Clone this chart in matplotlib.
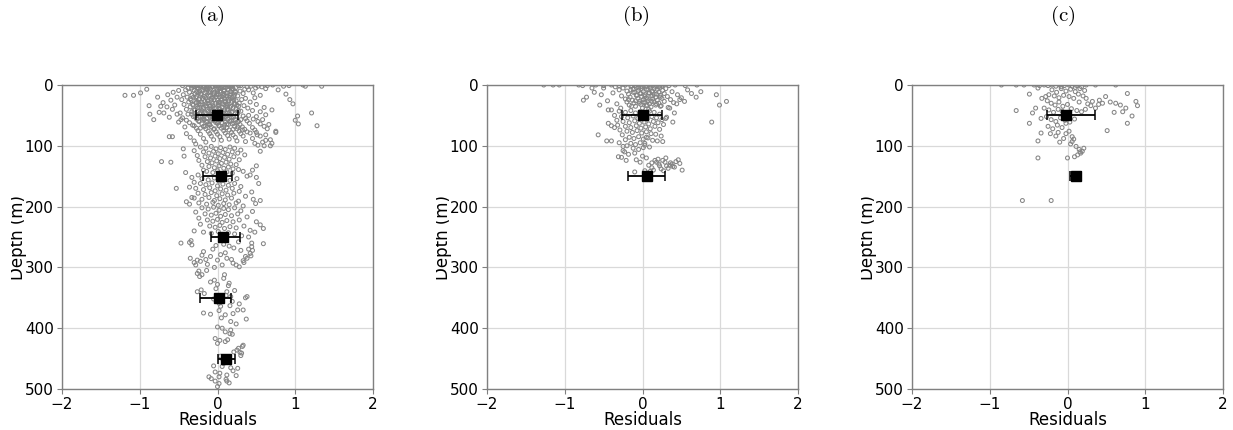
import numpy as np
import matplotlib
matplotlib.use("Agg")
import matplotlib.pyplot as plt
from matplotlib.transforms import Bbox

plt.rcParams['mathtext.fontset'] = 'cm'

# ---------------- data ----------------
panel_titles = ["(a)", "(b)", "(c)"]
xticks = [-2, -1, 0, 1, 2]
yticks = [0, 100, 200, 300, 400, 500]

# Panel (a) residual scatter
res_a = [
    -0.45, -0.32, -0.21, -0.12, -0.03, 0.06, 0.15, 0.27, 0.38, 0.52,
    0.64, 0.71, 0.85, -0.38, -0.26, -0.15, -0.07, 0.02, 0.11, 0.20,
    -0.41, -0.30, -0.19, -0.10, 0.00, 0.09, 0.18, 0.29, 0.40, -0.50,
    -0.36, -0.24, -0.14, -0.05, 0.04, 0.13, 0.23, 0.33, -0.57, 0.46,
    -0.44, -0.33, -0.22, -0.11, -0.01, 0.08, 0.17, 0.26, -0.64, 0.55,
    -0.39, -0.28, -0.17, -0.08, 0.03, 0.12, 0.21, 0.36, -0.52, 0.48,
    -0.46, -0.34, -0.23, -0.13, -0.04, 0.05, 0.14, 0.24, 0.31, -0.60,
    -0.37, -0.27, -0.16, -0.06, 0.02, 0.10, 0.19, 0.28, 0.42, -0.70,
    -0.43, -0.31, -0.20, -0.09, 0.01, 0.11, 0.22, 0.34, 0.50, -0.55,
    -0.35, -0.25, -0.15, -0.04, 0.06, 0.16, 0.27, 0.39, -0.65, 0.60,
    -0.40, -0.29, -0.18, -0.07, 0.03, 0.13, 0.24, 0.45, -0.58, 0.70,
    -0.33, -0.22, -0.12, -0.02, 0.08, 0.18, 0.30, -0.48, 0.55, -0.75,
    -0.38, -0.26, -0.14, -0.05, 0.05, 0.15, 0.26, 0.40, -0.52, 0.62,
    -0.31, -0.20, -0.10, 0.00, 0.10, 0.20, 0.33, -0.45, 0.50, -0.62,
    -0.27, -0.17, -0.07, 0.03, 0.13, 0.23, 0.36, -0.40, 0.46, 0.58,
    -0.24, -0.14, -0.04, 0.06, 0.16, 0.26, 0.38, -0.36, 0.52, -0.50,
    -0.20, -0.10, 0.00, 0.09, 0.19, 0.29, 0.41, -0.32, 0.55, 0.66,
    -0.18, -0.08, 0.02, 0.12, 0.22, 0.32, -0.30, 0.45, 0.60, -0.42,
    -0.15, -0.05, 0.05, 0.15, 0.25, 0.35, -0.27, 0.48, 0.64, 0.75,
    -0.12, -0.02, 0.08, 0.18, 0.28, 0.38, -0.25, 0.50, -0.40, 0.62,
    -0.10, 0.00, 0.10, 0.20, 0.30, -0.22, 0.42, 0.55, -0.35, 0.68,
    -0.08, 0.03, 0.13, 0.23, 0.33, -0.18, 0.45, -0.30, 0.58, 0.70,
    -0.05, 0.05, 0.15, 0.25, -0.15, 0.36, -0.28, 0.48, 0.60, 0.52,
    -0.30, -0.25, -0.18, -0.13, -0.06, -0.01, 0.04, 0.09, 0.14, 0.19,
    -0.27, -0.21, -0.16, -0.09, -0.04, 0.01, 0.07, 0.12, 0.17, 0.22,
    -0.31, -0.24, -0.19, -0.12, -0.06, 0.00, 0.05, 0.10, 0.16, 0.21,
    -0.28, -0.22, -0.15, -0.10, -0.03, 0.02, 0.08, 0.13, 0.18, 0.25,
    -0.26, -0.20, -0.13, -0.08, -0.02, 0.04, 0.09, 0.15, 0.20, 0.27,
    -0.23, -0.17, -0.11, -0.05, 0.01, 0.07, 0.12, 0.18, 0.23, -0.29,
    -0.20, -0.14, -0.08, -0.02, 0.04, 0.10, 0.16, 0.21, -0.26, 0.27,
    -0.34, -0.29, -0.23, -0.17, -0.11, -0.06, 0.00, 0.05, 0.11, 0.16,
    0.24, 0.30, 0.35, 0.43, 0.49, 0.57, 0.62, 0.78, 0.92, 1.10,
    -0.33, -0.26, -0.20, -0.14, -0.09, -0.03, 0.03, 0.08, 0.13, 0.18,
    -0.29, -0.23, -0.17, -0.11, -0.05, 0.00, 0.06, 0.11, 0.16, 0.23,
    -0.35, -0.27, -0.21, -0.15, -0.08, -0.02, 0.03, 0.09, 0.14, 0.19,
    -0.32, -0.25, -0.18, -0.12, -0.06, 0.01, 0.06, 0.12, 0.17, 0.22,
    -0.30, -0.23, -0.16, -0.10, -0.04, 0.02, 0.07, 0.13, 0.19, 0.24,
    -0.27, -0.21, -0.14, -0.08, -0.01, 0.05, 0.10, 0.16, 0.21, -0.33,
    -0.24, -0.18, -0.12, -0.06, 0.01, 0.07, 0.12, 0.18, 0.24, 0.30,
    -0.16, -0.10, -0.04, 0.02, 0.08, 0.14, 0.20, 0.26, -0.22, 0.32,
    -1.19, -1.08, -0.99, -0.91, -0.88, -0.87, -0.82, -0.77, -0.73, -0.69,
    -0.62, -0.58, -0.47, -0.44, -0.43, -0.72, 1.34, 1.13, 1.21, 1.28,
    1.00, 1.03, 0.97, 0.75, 0.68, 0.62, 0.51, 0.93, 0.88, 1.04,
    -0.22, -0.15, -0.08, -0.02, 0.04, 0.10, 0.16, 0.22, -0.30, 0.30,
    -0.18, -0.11, -0.05, 0.01, 0.07, 0.13, 0.19, 0.26, -0.26, 0.35,
    -0.16, -0.09, -0.03, 0.03, 0.09, 0.15, 0.21, -0.24, 0.28, 0.55,
    -0.13, -0.07, -0.01, 0.05, 0.11, 0.17, -0.20, 0.24, 0.50, -0.60,
    -0.11, -0.04, 0.02, 0.08, 0.14, 0.20, -0.18, 0.27, 0.45, -0.41,
    -0.14, -0.06, 0.00, 0.06, 0.12, 0.19, -0.25, 0.33, 0.38, -0.33,
    -0.20, -0.12, -0.04, 0.02, 0.09, 0.16, 0.25, -0.30, 0.42, 0.50,
    -0.22, -0.15, -0.07, 0.00, 0.07, 0.14, 0.22, 0.30, -0.36, 0.53,
    -0.28, -0.18, -0.10, -0.03, 0.04, 0.11, 0.19, 0.28, -0.53, 0.44,
    -0.25, -0.16, -0.08, -0.01, 0.06, 0.13, 0.21, 0.36, -0.33, 0.49,
    -0.30, -0.20, -0.11, -0.04, 0.03, 0.10, 0.18, 0.27, -0.40, 0.46,
    -0.24, -0.14, -0.06, 0.01, 0.08, 0.15, 0.24, 0.33, -0.36, 0.55,
    -0.20, -0.12, -0.05, 0.02, 0.08, 0.14, 0.22, 0.30, -0.28, 0.45,
    -0.16, -0.08, -0.02, 0.04, 0.10, 0.18, 0.26, 0.38, -0.24, 0.50,
    -0.13, -0.06, 0.00, 0.06, 0.12, 0.20, 0.28, 0.42, -0.22, 0.55,
    -0.10, -0.03, 0.03, 0.09, 0.16, 0.24, 0.34, 0.59, -0.30, 0.48,
    -0.18, -0.08, 0.01, 0.07, 0.14, 0.22, 0.31, 0.40, -0.34, -0.47,
    -0.36, -0.33, -0.35, -0.30, -0.26, -0.20, -0.18, -0.13, -0.09, -0.06,
    0.00, 0.04, 0.12, 0.18, 0.24, 0.34, 0.38, 0.42, 0.44, 0.44,
    0.59, 0.27, 0.21, 0.15, 0.08, 0.30, 0.40, 0.36, -0.02, 0.10,
    -0.28, -0.22, -0.15, -0.04, 0.06, 0.20, 0.28, 0.33, 0.43, 0.45,
    -0.26, -0.24, -0.23, -0.20, -0.14, -0.09, -0.04, 0.00, 0.15, 0.14,
    -0.26, -0.21, -0.17, 0.11, 0.17, 0.19, 0.16, 0.26, 0.33, 0.38,
    0.36, 0.02, 0.04, -0.18, -0.09, 0.02, 0.05, 0.17, 0.24, 0.37,
    0.00, -0.02, 0.08, 0.12, -0.05, 0.09, 0.22, 0.28, 0.10, 0.20,
    0.06, 0.10, 0.17, 0.19, -0.03, 0.03, 0.10, 0.00, 0.13, 0.25,
    0.32, 0.31, 0.27, 0.21, 0.04, 0.06, 0.08, 0.17, 0.26, -0.03,
    0.03, 0.12, -0.11, -0.08, 0.02, -0.03, 0.12, 0.15, 0.02, 0.00,
    0.29, 0.33, 0.30, 0.14, 0.20, -0.05, 0.07, 0.11, 0.24, 0.16,
]
depth_a = [
    1, 2, 0, 3, 1, 2, 0, 1, 3, 2,
    1, 0, 2, 5, 4, 6, 3, 5, 4, 6,
    8, 9, 7, 10, 8, 9, 7, 10, 8, 9,
    12, 13, 11, 14, 12, 13, 11, 14, 12, 13,
    16, 17, 15, 18, 16, 17, 15, 18, 16, 17,
    20, 21, 19, 22, 20, 21, 19, 22, 20, 21,
    24, 25, 23, 26, 24, 25, 23, 26, 24, 25,
    28, 29, 27, 30, 28, 29, 27, 30, 28, 29,
    32, 33, 31, 34, 32, 33, 31, 34, 32, 33,
    36, 37, 35, 38, 36, 37, 35, 38, 36, 37,
    40, 41, 39, 42, 40, 41, 39, 42, 40, 41,
    44, 45, 43, 46, 44, 45, 43, 46, 44, 45,
    48, 49, 47, 50, 48, 49, 47, 50, 48, 49,
    52, 53, 51, 54, 52, 53, 51, 54, 52, 53,
    56, 57, 55, 58, 56, 57, 55, 58, 56, 57,
    60, 61, 59, 62, 60, 61, 59, 62, 60, 61,
    64, 65, 63, 66, 64, 65, 63, 66, 64, 65,
    68, 69, 67, 70, 68, 69, 67, 70, 68, 69,
    72, 73, 71, 74, 72, 73, 71, 74, 72, 76,
    76, 77, 75, 78, 76, 77, 75, 78, 80, 82,
    80, 81, 79, 82, 80, 81, 79, 84, 86, 90,
    84, 85, 83, 86, 84, 88, 88, 92, 94, 96,
    90, 91, 89, 92, 94, 93, 97, 96, 100, 99,
    2, 6, 4, 8, 3, 7, 5, 9, 2, 6,
    11, 15, 13, 17, 12, 16, 14, 18, 11, 15,
    20, 24, 22, 26, 21, 25, 23, 27, 20, 24,
    29, 33, 31, 35, 30, 34, 32, 36, 29, 33,
    38, 42, 40, 44, 39, 43, 41, 45, 38, 42,
    47, 51, 49, 53, 48, 52, 50, 54, 47, 51,
    56, 60, 58, 62, 57, 61, 59, 63, 56, 60,
    0, 3, 1, 4, 0, 2, 1, 3, 0, 2,
    4, 1, 7, 2, 5, 3, 6, 8, 1, 0,
    5, 1, 9, 3, 7, 1, 10, 4, 8, 3,
    14, 10, 19, 12, 16, 11, 19, 13, 17, 12,
    23, 19, 28, 21, 25, 19, 28, 22, 26, 21,
    32, 28, 37, 30, 34, 29, 37, 31, 35, 30,
    41, 37, 46, 39, 43, 38, 46, 40, 44, 39,
    50, 46, 55, 48, 52, 47, 55, 49, 53, 48,
    59, 55, 64, 57, 61, 56, 64, 58, 62, 57,
    68, 66, 72, 67, 70, 65, 73, 69, 71, 74,
    17, 17, 13, 7, 34, 48, 57, 20, 35, 46,
    85, 85, 57, 105, 117, 126, 2, 2, 46, 67,
    58, 51, 31, 78, 100, 91, 82, 24, 15, 64,
    102, 104, 101, 105, 103, 106, 102, 104, 108, 107,
    110, 112, 109, 113, 111, 114, 110, 112, 116, 115,
    118, 120, 117, 121, 119, 122, 118, 124, 123, 109,
    126, 128, 125, 129, 127, 130, 132, 131, 133, 127,
    134, 136, 133, 137, 135, 138, 140, 139, 140, 144,
    142, 144, 141, 146, 143, 145, 148, 142, 150, 152,
    154, 156, 153, 158, 155, 157, 154, 160, 148, 152,
    162, 164, 161, 166, 163, 165, 162, 167, 168, 162,
    170, 172, 169, 174, 171, 173, 170, 175, 170, 176,
    178, 180, 177, 182, 179, 181, 178, 183, 185, 195,
    186, 188, 185, 190, 187, 189, 186, 191, 192, 188,
    194, 196, 193, 198, 195, 197, 194, 199, 196, 190,
    202, 204, 201, 206, 203, 205, 202, 207, 209, 208,
    212, 214, 211, 216, 213, 215, 212, 217, 219, 225,
    222, 224, 221, 226, 223, 225, 222, 239, 229, 230,
    232, 234, 231, 236, 233, 235, 232, 236, 240, 242,
    242, 244, 241, 246, 243, 245, 248, 250, 256, 260,
    259, 263, 285, 292, 288, 280, 274, 295, 282, 270,
    288, 279, 285, 287, 296, 292, 285, 277, 266, 260,
    261, 258, 268, 265, 262, 272, 270, 282, 264, 276,
    296, 290, 287, 300, 296, 293, 299, 289, 281, 272,
    310, 306, 315, 312, 305, 324, 321, 328, 326, 330,
    340, 337, 343, 346, 348, 356, 363, 370, 370, 348,
    350, 359, 364, 375, 377, 371, 383, 389, 393, 385,
    398, 335, 318, 340, 352, 312, 338, 360, 378, 376,
    400, 406, 403, 410, 417, 420, 422, 425, 419, 436,
    430, 441, 433, 439, 446, 463, 458, 465, 466, 472,
    474, 477, 480, 483, 480, 487, 487, 490, 491, 496,
    440, 428, 445, 455, 470, 462, 452, 484, 478, 409,
]

# Panel (b) residual scatter
res_b = [
    -1.27, -1.15, -1.07, -0.82, -0.77, -0.60, -0.50, -0.40, -0.30, -0.22,
    -0.14, -0.06, 0.02, 0.10, 0.18, 0.26, 0.34, 0.42, 0.55, 0.70,
    -0.35, -0.25, -0.15, -0.08, -0.02, 0.04, 0.10, 0.16, 0.22, 0.30,
    -0.30, -0.20, -0.12, -0.05, 0.01, 0.07, 0.13, 0.19, 0.26, 0.38,
    -0.38, -0.18, -0.10, -0.03, 0.03, 0.09, 0.15, 0.21, 0.28, 0.45,
    -0.27, -0.16, -0.08, -0.01, 0.05, 0.11, 0.17, 0.23, 0.32, 0.50,
    -0.22, -0.13, -0.06, 0.01, 0.07, 0.13, 0.19, 0.25, 0.36, -0.45,
    -0.20, -0.11, -0.04, 0.03, 0.09, 0.15, 0.21, 0.28, 0.40, -0.33,
    -0.17, -0.09, -0.02, 0.05, 0.11, 0.17, 0.23, -0.28, 0.33, -0.40,
    -0.10, -0.05, 0.00, 0.05, 0.10, 0.15, 0.20, -0.15, 0.25, 0.12,
    -0.12, -0.07, -0.02, 0.03, 0.08, 0.13, 0.18, 0.23, -0.18, 0.06,
    -0.09, -0.04, 0.01, 0.06, 0.12, 0.18, -0.14, 0.24, 0.00, 0.08,
    0.95, 1.08, 0.99, 0.89, 0.75, 0.69, 0.63, 0.54, 0.44, 0.41,
    0.39, 0.26, 0.48, 0.58, -0.76, -0.72, -0.55, -0.53, -0.44, -0.57,
    -0.46, -0.40, -0.44, -0.40, -0.33, -0.62, -0.65, -0.50, 0.35, 0.30,
    -0.30, -0.22, -0.15, -0.09, -0.03, 0.03, 0.09, 0.15, 0.22, -0.36,
    -0.27, -0.19, -0.12, -0.06, 0.00, 0.06, 0.12, 0.18, 0.25, 0.31,
    -0.25, -0.17, -0.10, -0.04, 0.02, 0.08, 0.14, 0.20, -0.32, 0.27,
    -0.22, -0.15, -0.08, -0.02, 0.04, 0.10, 0.16, -0.29, 0.22, -0.36,
    -0.20, -0.13, -0.07, -0.01, 0.05, 0.11, -0.26, 0.17, 0.24, 0.05,
    -0.17, -0.11, -0.05, 0.01, 0.07, -0.22, 0.13, 0.19, -0.30, 0.03,
    -0.15, -0.09, -0.03, 0.03, -0.20, 0.09, -0.12, -0.05, 0.01, -0.25,
    -0.31, -0.27, -0.23, -0.21, -0.25, -0.18, -0.10, -0.08, 0.00, 0.05,
    -0.03, 0.14, 0.18, 0.26, 0.31, 0.36, 0.39, 0.43, 0.46, 0.51,
    0.08, 0.12, 0.21, 0.24, 0.29, 0.33, 0.38, 0.41, -0.10, 0.03,
    0.06, 0.10, 0.16, 0.22, 0.27, 0.35, 0.48, 0.20, 0.30, 0.12,
]
depth_b = [
    0, 0, 0, 0, 1, 0, 1, 0, 1, 0,
    1, 0, 1, 0, 1, 0, 1, 0, 1, 0,
    3, 5, 2, 4, 6, 3, 5, 2, 4, 6,
    8, 10, 7, 9, 11, 8, 10, 7, 9, 11,
    13, 15, 12, 14, 16, 13, 15, 12, 14, 16,
    18, 20, 17, 19, 21, 18, 20, 17, 19, 21,
    23, 25, 22, 24, 26, 23, 25, 22, 24, 26,
    28, 30, 27, 29, 31, 28, 30, 27, 29, 31,
    33, 35, 32, 34, 36, 33, 35, 38, 37, 41,
    1, 5, 3, 7, 2, 6, 3, 8, 2, 11,
    12, 17, 14, 19, 13, 18, 15, 20, 24, 23,
    26, 30, 28, 33, 27, 31, 35, 34, 38, 40,
    16, 27, 33, 61, 11, 20, 14, 27, 31, 46,
    61, 93, 24, 8, 25, 20, 33, 16, 41, 82,
    92, 92, 63, 67, 58, 12, 5, 5, 38, 55,
    43, 45, 42, 46, 44, 47, 43, 45, 48, 50,
    52, 54, 51, 55, 53, 56, 52, 54, 57, 53,
    60, 62, 59, 63, 61, 64, 60, 62, 66, 65,
    68, 70, 67, 71, 69, 72, 68, 74, 73, 70,
    76, 78, 75, 79, 77, 80, 82, 81, 84, 86,
    86, 88, 85, 89, 87, 90, 91, 92, 95, 96,
    96, 98, 95, 99, 100, 102, 104, 106, 103, 108,
    118, 119, 110, 124, 101, 114, 112, 123, 117, 120,
    127, 140, 127, 124, 133, 128, 134, 126, 123, 140,
    132, 136, 130, 138, 127, 137, 130, 135, 143, 141,
    145, 142, 124, 133, 141, 132, 129, 122, 120, 128,
]

# Panel (c) residual scatter
res_c = [
    -0.85, -0.66, -0.56, -0.43, -0.36, -0.30, -0.25, -0.20, -0.15, -0.10,
    -0.04, 0.02, 0.06, 0.12, 0.18, 0.24, 0.36, 0.62, 0.10, -0.08,
    -0.38, -0.28, -0.20, -0.14, -0.08, -0.02, 0.04, 0.10, 0.16, 0.22,
    -0.49, -0.33, -0.24, -0.17, -0.11, -0.05, 0.02, 0.08, 0.14, 0.20,
    0.24, 0.32, 0.41, 0.45, 0.49, 0.55, 0.62, 0.68, 0.77, 0.88,
    0.90, 0.83, 0.71, 0.77, 0.51, 0.36, 0.30, 0.26, 0.15, 0.40,
    -0.66, -0.41, -0.45, -0.49, -0.26, -0.21, -0.16, -0.11, -0.06, 0.00,
    -0.30, -0.24, -0.18, -0.12, -0.07, -0.01, 0.05, 0.12, 0.18, 0.23,
    -0.34, -0.27, -0.21, -0.15, -0.09, -0.03, 0.03, 0.09, 0.60, 0.75,
    -0.38, -0.34, -0.25, -0.19, -0.13, -0.07, -0.02, 0.06, 0.11, 0.15,
    0.17, 0.09, 0.00, 0.06, 0.13, 0.19, 0.21, 0.16, -0.38, -0.12,
    -0.58, -0.21, -0.05, -0.10, -0.02, 0.02, 0.04, 0.08, -0.15, -0.22,
]
depth_c = [
    0, 0, 0, 0, 1, 0, 1, 0, 2, 0,
    1, 0, 2, 1, 3, 0, 0, 0, 4, 3,
    5, 19, 8, 12, 6, 10, 7, 11, 6, 9,
    15, 22, 16, 18, 21, 17, 19, 22, 15, 18,
    22, 27, 25, 30, 19, 28, 30, 33, 14, 27,
    34, 51, 44, 63, 75, 38, 34, 31, 28, 32,
    42, 38, 46, 63, 26, 30, 33, 28, 35, 32,
    38, 41, 45, 40, 43, 47, 39, 42, 44, 40,
    55, 52, 57, 60, 54, 58, 61, 56, 45, 38,
    92, 79, 68, 72, 66, 70, 63, 85, 101, 106,
    112, 118, 120, 93, 115, 109, 104, 110, 120, 78,
    190, 190, 88, 94, 80, 76, 97, 89, 84, 80,
]

# Binned means with (lower, upper) spreads
bin_depth_a = [50, 150, 250, 350, 450]
bin_mean_a = [-0.01, 0.04, 0.07, 0.02, 0.11]
bin_lo_a = [0.27, 0.23, 0.16, 0.24, 0.11]
bin_hi_a = [0.27, 0.15, 0.22, 0.16, 0.12]

bin_depth_b = [50, 150]
bin_mean_b = [0.00, 0.06]
bin_lo_b = [0.26, 0.25]
bin_hi_b = [0.25, 0.23]

bin_depth_c = [50, 150]
bin_mean_c = [-0.02, 0.11]
bin_lo_c = [0.24, 0.08]
bin_hi_c = [0.38, 0.07]

# ---------------- figure ----------------
W, H = 1233, 430
fig = plt.figure(figsize=(W / 100, H / 100), dpi=100)

lefts_px = [62, 487, 912]
ax_w_px = 311
top_px, bot_px = 85, 389
title_x_px = [211, 636, 1063]

scat = [(res_a, depth_a), (res_b, depth_b), (res_c, depth_c)]
bins = [(bin_depth_a, bin_mean_a, bin_lo_a, bin_hi_a),
        (bin_depth_b, bin_mean_b, bin_lo_b, bin_hi_b),
        (bin_depth_c, bin_mean_c, bin_lo_c, bin_hi_c)]

for i in range(3):
    ax = fig.add_axes([lefts_px[i] / W, 1 - bot_px / H,
                       ax_w_px / W, (bot_px - top_px) / H])
    ax.set_axisbelow(True)
    ax.grid(True, color='#d9d9d9', linewidth=0.9)
    xs, ds = scat[i]
    ax.scatter(xs, ds, s=8, facecolors='none', edgecolors='#858585',
               linewidths=0.75, zorder=2)
    bd, bm, blo, bhi = bins[i]
    ax.errorbar(bm, bd, xerr=[blo, bhi], fmt='s', color='black',
                markersize=7.5, capsize=3.5, elinewidth=1.3,
                capthick=1.1, zorder=3)
    ax.set_xlim(-2, 2)
    ax.set_ylim(500, 0)
    ax.set_xticks(xticks)
    ax.set_yticks(yticks)
    ax.tick_params(labelsize=11, length=3.5, color='#808080', width=0.8,
                   pad=2.5)
    for sp in ax.spines.values():
        sp.set_color('#808080')
        sp.set_linewidth(1.0)
    ax.set_xlabel('Residuals', fontsize=12, labelpad=-1.0)
    ax.set_ylabel('Depth (m)', fontsize=12)
    ax.yaxis.set_label_coords(-35 / ax_w_px, 0.5)
    lab = ax.yaxis.label
    lab.set_clip_box(Bbox.from_extents(lefts_px[i] - 51, 0, W, H))
    lab.set_clip_on(True)
    fig.text(title_x_px[i] / W, 1 - 16 / H, r'$\mathrm{' + panel_titles[i] + '}$',
             ha='center', va='center', fontsize=15)

fig.savefig('out.png', dpi=100)
